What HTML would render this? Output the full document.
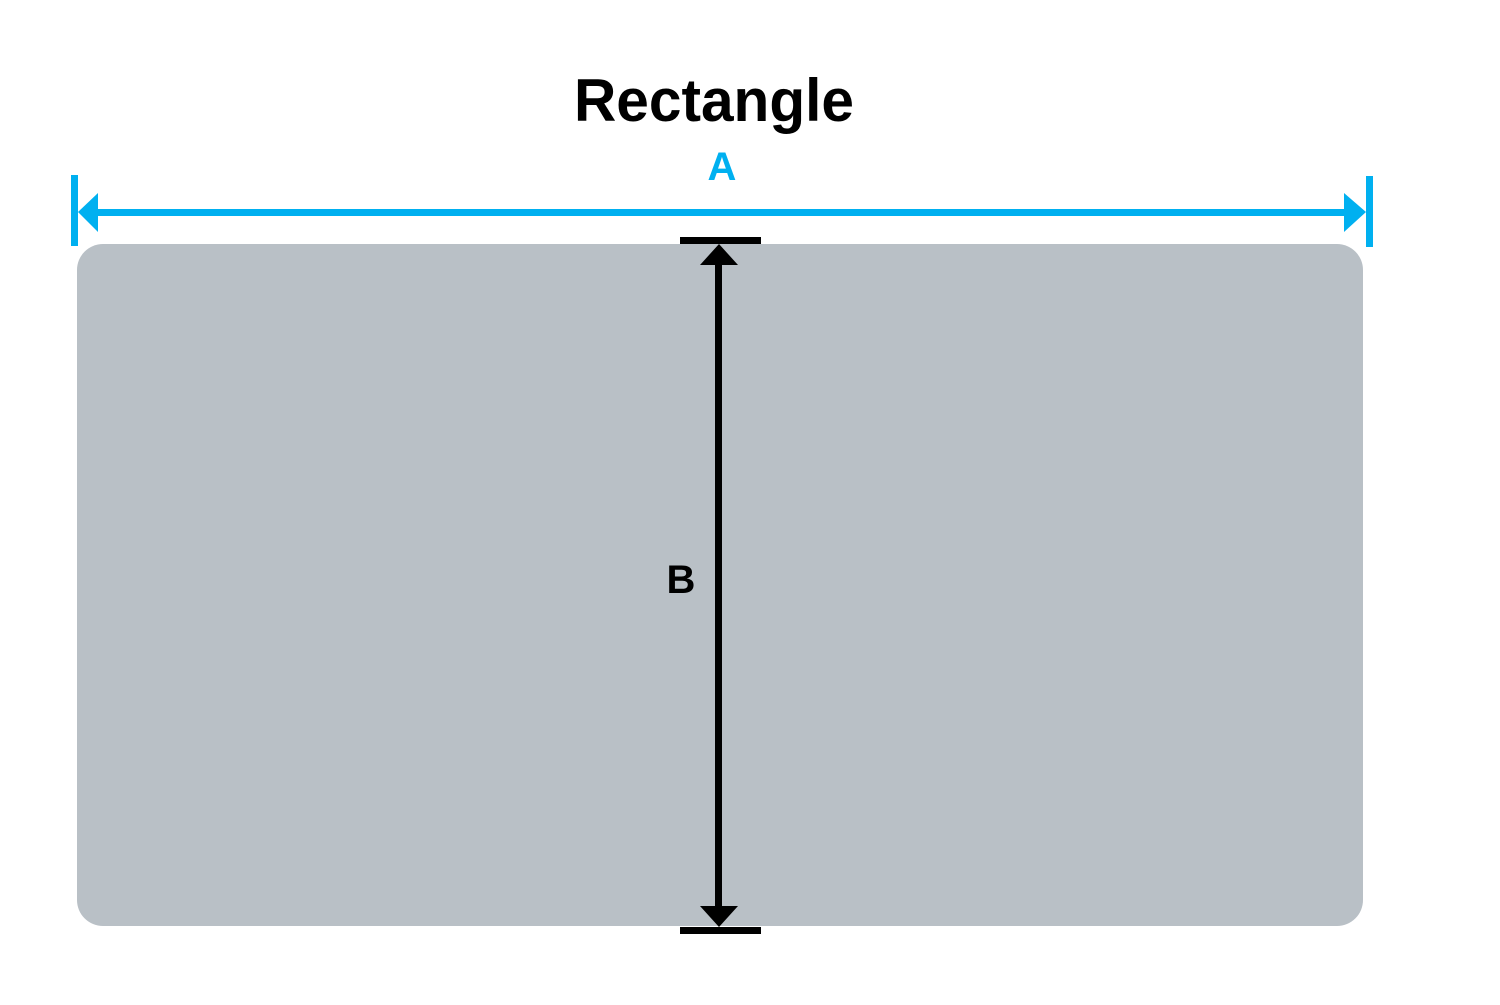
<!DOCTYPE html>
<html><head><style>html,body{margin:0;padding:0;background:#fff;width:1500px;height:1005px;overflow:hidden}</style></head>
<body>
<svg width="1500" height="1005" xmlns="http://www.w3.org/2000/svg">
<rect x="77" y="244" width="1286" height="682" rx="26" fill="#b9c0c6"/>
<text x="714" y="121" text-anchor="middle" font-family="Liberation Sans, sans-serif" font-weight="bold" font-size="60" textLength="280" lengthAdjust="spacingAndGlyphs" fill="#000">Rectangle</text>
<text x="722" y="180" text-anchor="middle" font-family="Liberation Sans, sans-serif" font-weight="bold" font-size="40" fill="#00b0f0">A</text>
<rect x="95" y="209" width="1252" height="7" fill="#00b0f0"/>
<rect x="71" y="175" width="7" height="71" fill="#00b0f0"/>
<rect x="1366" y="176" width="7" height="71" fill="#00b0f0"/>
<polygon points="78,212 98,193 98,232" fill="#00b0f0"/>
<polygon points="1366,212 1344,193 1344,232" fill="#00b0f0"/>
<rect x="715" y="262" width="7" height="648" fill="#000"/>
<rect x="680" y="237" width="81" height="7" fill="#000"/>
<rect x="680" y="927" width="81" height="7" fill="#000"/>
<polygon points="719,244 700,265 738,265" fill="#000"/>
<polygon points="719,927 700,906 738,906" fill="#000"/>
<text x="681" y="593" text-anchor="middle" font-family="Liberation Sans, sans-serif" font-weight="bold" font-size="40" fill="#000">B</text>
</svg>
</body></html>
